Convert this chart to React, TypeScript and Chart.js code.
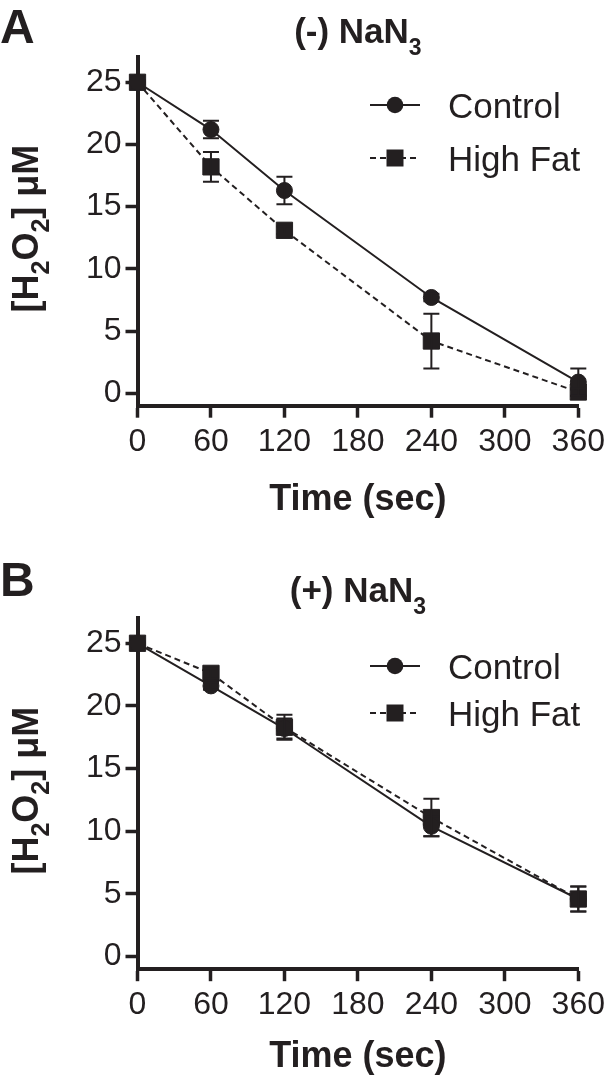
import React, { useEffect, useRef } from "react";
import { Chart, registerables } from "chart.js";

Chart.register(...registerables);

// ---------------- data ----------------
const TIMES = [0, 60, 120, 240, 360];
const X_TICKS = [0, 60, 120, 180, 240, 300, 360];
const Y_TICKS = [0, 5, 10, 15, 20, 25];

const CONTROL_A = [25, 21.2, 16.3, 7.7, 0.9];
const CONTROL_A_ERR = [0, 0.7, 1.1, 0.3, 1.1];
const HIGHFAT_A = [25, 18.2, 13.1, 4.2, 0.1];
const HIGHFAT_A_ERR = [0, 1.2, 0.3, 2.2, 0.3];

const CONTROL_B = [25, 21.6, 18.2, 10.4, 4.6];
const CONTROL_B_ERR = [0, 0.3, 0.8, 0.8, 1.0];
const HIGHFAT_B = [25, 22.6, 18.3, 11.1, 4.6];
const HIGHFAT_B_ERR = [0, 0.4, 1.0, 1.5, 1.0];

const SERIES_LABELS = ["Control", "High Fat"];
const X_TITLE = "Time (sec)";
const Y_TITLE = [
  { t: "[H" },
  { t: "2", sub: true },
  { t: "O" },
  { t: "2", sub: true },
  { t: "] μM" },
];
const TITLE_A = [{ t: "(-) NaN" }, { t: "3", sub: true }];
const TITLE_B = [{ t: "(+) NaN" }, { t: "3", sub: true }];

// ---------------- styling ----------------
const INK = "#231f20";
const FAMILY = "'Liberation Sans', Arial, Helvetica, sans-serif";

type Seg = { t: string; sub?: boolean };

function drawRich(
  ctx: CanvasRenderingContext2D,
  segs: Seg[],
  cx: number,
  baseline: number,
  mainSize: number,
  subSize: number,
  subShift: number,
  weight: string
) {
  const mainFont = `${weight} ${mainSize}px ${FAMILY}`;
  const subFont = `${weight} ${subSize}px ${FAMILY}`;
  let total = 0;
  const widths: number[] = [];
  for (const s of segs) {
    ctx.font = s.sub ? subFont : mainFont;
    const w = ctx.measureText(s.t).width;
    widths.push(w);
    total += w;
  }
  let x = cx - total / 2;
  ctx.textAlign = "left";
  ctx.textBaseline = "alphabetic";
  segs.forEach((s, i) => {
    ctx.font = s.sub ? subFont : mainFont;
    ctx.fillText(s.t, x, baseline + (s.sub ? subShift : 0));
    x += widths[i];
  });
}

type PanelProps = {
  height: number;
  letter: string;
  title: Seg[];
  control: number[];
  controlErr: number[];
  highFat: number[];
  highFatErr: number[];
  areaTop: number;
  areaBottom: number;
  letterBaseline: number;
  titleBaseline: number;
  legendY1: number;
  legendY2: number;
  xTitleBaseline: number;
};

function Panel(props: PanelProps) {
  const ref = useRef<HTMLCanvasElement | null>(null);

  useEffect(() => {
    const canvas = ref.current;
    if (!canvas) return;
    const errs = [props.controlErr, props.highFatErr];

    const errorBars = {
      id: "errorBars",
      afterDatasetsDraw(chart: any) {
        const ctx = chart.ctx;
        const y = chart.scales.y;
        ctx.save();
        ctx.strokeStyle = INK;
        ctx.lineWidth = 2;
        ctx.setLineDash([]);
        chart.data.datasets.forEach((ds: any, di: number) => {
          const meta = chart.getDatasetMeta(di);
          ds.data.forEach((p: any, j: number) => {
            const e = errs[di][j];
            if (!e) return;
            const px = meta.data[j].x;
            const top = y.getPixelForValue(p.y + e);
            const bot = y.getPixelForValue(p.y - e);
            ctx.beginPath();
            ctx.moveTo(px, top);
            ctx.lineTo(px, bot);
            ctx.moveTo(px - 8, top);
            ctx.lineTo(px + 8, top);
            ctx.moveTo(px - 8, bot);
            ctx.lineTo(px + 8, bot);
            ctx.stroke();
          });
        });
        ctx.restore();
      },
    };

    const texts = {
      id: "panelTexts",
      afterDraw(chart: any) {
        const ctx = chart.ctx as CanvasRenderingContext2D;
        const area = chart.chartArea;
        const cx = (area.left + area.right) / 2;
        ctx.save();
        ctx.fillStyle = INK;
        // panel letter
        ctx.font = `bold 48px ${FAMILY}`;
        ctx.textAlign = "left";
        ctx.textBaseline = "alphabetic";
        ctx.fillText(props.letter, 0, props.letterBaseline);
        // title
        drawRich(ctx, props.title, cx, props.titleBaseline, 35, 23, 12, "bold");
        // x title
        ctx.font = `bold 36px ${FAMILY}`;
        ctx.textAlign = "center";
        ctx.fillText(X_TITLE, cx, props.xTitleBaseline);
        // y title (rotated)
        ctx.save();
        ctx.translate(38, (area.top + area.bottom) / 2 - 3);
        ctx.rotate(-Math.PI / 2);
        drawRich(ctx, Y_TITLE, 0, 0, 36, 25, 11, "bold");
        ctx.restore();
        // legend
        const rows = [props.legendY1, props.legendY2];
        rows.forEach((ly, i) => {
          ctx.strokeStyle = INK;
          ctx.lineWidth = 2;
          ctx.setLineDash(i === 0 ? [] : [6, 4]);
          ctx.beginPath();
          ctx.moveTo(370, ly);
          ctx.lineTo(420, ly);
          ctx.stroke();
          ctx.setLineDash([]);
          ctx.fillStyle = INK;
          ctx.beginPath();
          if (i === 0) {
            ctx.arc(395, ly, 8.3, 0, Math.PI * 2);
          } else {
            ctx.rect(395 - 8.5, ly - 8.5, 17, 17);
          }
          ctx.fill();
          ctx.font = `35px ${FAMILY}`;
          ctx.textAlign = "left";
          ctx.textBaseline = "alphabetic";
          ctx.fillText(SERIES_LABELS[i], 448, ly + 12.5);
        });
        ctx.restore();
      },
    };

    const chart = new Chart(canvas, {
      type: "line",
      data: {
        datasets: [
          {
            label: SERIES_LABELS[0],
            data: TIMES.map((t, i) => ({ x: t, y: props.control[i] })),
            borderColor: INK,
            backgroundColor: INK,
            borderWidth: 2,
            pointStyle: "circle",
            pointRadius: 8,
            pointBorderWidth: 1,
            pointBorderColor: INK,
            pointBackgroundColor: INK,
            tension: 0,
            clip: false,
          } as any,
          {
            label: SERIES_LABELS[1],
            data: TIMES.map((t, i) => ({ x: t, y: props.highFat[i] })),
            borderColor: INK,
            backgroundColor: INK,
            borderWidth: 2,
            borderDash: [6, 4],
            pointStyle: "rect",
            pointRadius: 11.5,
            pointBorderWidth: 1,
            pointBorderColor: INK,
            pointBackgroundColor: INK,
            tension: 0,
            clip: false,
          } as any,
        ],
      },
      options: {
        animation: false,
        responsive: false,
        maintainAspectRatio: false,
        events: [],
        layout: { padding: { top: props.areaTop, right: 29, left: 0, bottom: 0 } },
        plugins: {
          legend: { display: false },
          title: { display: false },
          tooltip: { enabled: false },
        },
        scales: {
          x: {
            type: "linear",
            min: 0,
            max: 360,
            afterBuildTicks: (s: any) => {
              s.ticks = X_TICKS.map((v) => ({ value: v }));
            },
            afterFit: (s: any) => {
              s.height = props.height - props.areaBottom;
            },
            ticks: {
              color: INK,
              font: { family: FAMILY, size: 32 },
              padding: 5,
              maxRotation: 0,
              autoSkip: false,
            },
            grid: {
              display: true,
              drawOnChartArea: false,
              drawTicks: true,
              tickLength: 12,
              tickWidth: 3.5,
              tickColor: INK,
            },
            border: { display: true, color: INK, width: 4 },
          },
          y: {
            type: "linear",
            min: -1,
            max: 27,
            afterBuildTicks: (s: any) => {
              s.ticks = Y_TICKS.map((v) => ({ value: v }));
            },
            afterFit: (s: any) => {
              s.width = 137.5;
            },
            ticks: {
              color: INK,
              font: { family: FAMILY, size: 32 },
              padding: 4,
              autoSkip: false,
            },
            grid: {
              display: true,
              drawOnChartArea: false,
              drawTicks: true,
              tickLength: 12,
              tickWidth: 3.5,
              tickColor: INK,
            },
            border: { display: true, color: INK, width: 4 },
          },
        },
      },
      plugins: [errorBars, texts],
    });
    return () => chart.destroy();
  }, []);

  return (
    <canvas
      ref={ref}
      width={610}
      height={props.height}
      style={{ display: "block", width: 610, height: props.height }}
    />
  );
}

export default function App() {
  return (
    <div
      style={{
        position: "fixed",
        left: 0,
        top: 0,
        width: 610,
        height: 1084,
        background: "#ffffff",
        overflow: "hidden",
      }}
    >
      <Panel
        height={540}
        letter="A"
        title={TITLE_A}
        control={CONTROL_A}
        controlErr={CONTROL_A_ERR}
        highFat={HIGHFAT_A}
        highFatErr={HIGHFAT_A_ERR}
        areaTop={57.4}
        areaBottom={405.7}
        letterBaseline={43}
        titleBaseline={43}
        legendY1={105}
        legendY2={158}
        xTitleBaseline={510}
      />
      <Panel
        height={544}
        letter="B"
        title={TITLE_B}
        control={CONTROL_B}
        controlErr={CONTROL_B_ERR}
        highFat={HIGHFAT_B}
        highFatErr={HIGHFAT_B_ERR}
        areaTop={78.2}
        areaBottom={429.2}
        letterBaseline={56}
        titleBaseline={62}
        legendY1={126}
        legendY2={173}
        xTitleBaseline={527}
      />
    </div>
  );
}
